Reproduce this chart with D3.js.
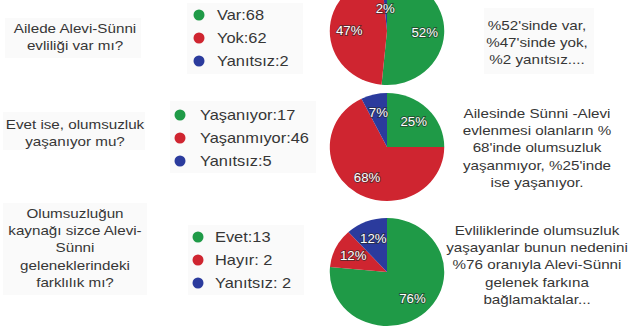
<!DOCTYPE html>
<html lang="tr">
<head>
<meta charset="utf-8">
<script src="https://cdn.jsdelivr.net/npm/d3@7"></script>
<style>
  html, body { margin: 0; padding: 0; background: #fff; }
  svg { display: block; }
  text { font-family: "Liberation Sans", Arial, Helvetica, sans-serif; }
</style>
</head>
<body>
<svg id="chart" width="630" height="333"></svg>
<script>
// Survey questions (left column)
const questions = [
  ["Ailede Alevi-Sünni", "evliliği var mı?"],
  ["Evet ise, olumsuzluk", "yaşanıyor mu?"],
  ["Olumsuzluğun", "kaynağı sizce Alevi-", "Sünni", "geleneklerindeki", "farklılık mı?"]
];

// Answer categories and counts for each question
const categories = [
  ["Var", "Yok", "Yanıtsız"],
  ["Yaşanıyor", "Yaşanmıyor", "Yanıtsız"],
  ["Evet", "Hayır", "Yanıtsız"]
];
const counts = [
  [68, 62, 2],
  [17, 46, 5],
  [13, 2, 2]
];
const separators = [
  [":", ":", ":"],
  [":", ":", ":"],
  [":", ": ", ": "]
];

// Written summaries (right column)
const summaries = [
  ["%52'sinde var,", "%47'sinde yok,", "%2 yanıtsız...."],
  ["Ailesinde Sünni -Alevi", "evlenmesi olanların %", "68'inde olumsuzluk", "yaşanmıyor, %25'inde", "ise yaşanıyor."],
  ["Evliliklerinde olumsuzluk", "yaşayanlar bunun nedenini", "%76 oranıyla Alevi-Sünni", "gelenek farkına", "bağlamaktalar..."]
];

const sliceColors = ["#1f9a47", "#cf2530", "#2b3b9d"];

// ---- layout ----
const svg = d3.select("#chart");
const pieX = 387, pieR = 54, pieStretch = 1.06;
const rowPieY = [31, 147, 272];
const questionX = 75, questionY = [28, 124, 213];
const legendDotX = [199, 180, 198], legendTextX = [217, 200, 215];
const legendY = [15, 115, 237], legendStep = 23;
const summaryX = 537, summaryY = [25, 113, 230];
const lineH = 17.4;
const textColor = "#363636";

const color = d3.scaleOrdinal().domain([0, 1, 2]).range(sliceColors);
const pie = d3.pie().sort(null).value(d => d);
const arc = d3.arc().innerRadius(0).outerRadius(pieR);
const labelArc = d3.arc().innerRadius(pieR * 0.66).outerRadius(pieR * 0.66);

// faint panels behind text blocks
const panels = [
  [5, 18, 136, 40], [187, 3, 116, 71], [484, 8, 110, 66],
  [3, 112, 142, 38], [170, 101, 146, 72],
  [3, 203, 144, 92], [188, 225, 116, 70]
];
svg.append("g").selectAll("rect").data(panels).join("rect")
  .attr("x", d => d[0]).attr("y", d => d[1])
  .attr("width", d => d[2]).attr("height", d => d[3])
  .attr("fill", "#fafafa");

function wideText(g, x, y, str, size, sx) {
  return g.append("text")
    .attr("transform", `translate(${x},${y}) scale(${sx},1)`)
    .attr("dominant-baseline", "central")
    .attr("font-size", size)
    .attr("fill", textColor)
    .text(str);
}

counts.forEach((vals, i) => {
  const g = svg.append("g");

  // question text
  questions[i].forEach((line, k) => {
    wideText(g, questionX, questionY[i] + k * lineH, line, 13, 1.17)
      .attr("text-anchor", "middle");
  });

  // legend
  vals.forEach((v, k) => {
    const y = legendY[i] + k * legendStep;
    g.append("circle")
      .attr("cx", legendDotX[i]).attr("cy", y).attr("r", 5.5)
      .attr("fill", color(k));
    wideText(g, legendTextX[i], y, categories[i][k] + separators[i][k] + v, 14.5, 1.13);
  });

  // pie (slightly wider than tall)
  const total = d3.sum(vals);
  const arcs = pie(vals);
  const cy = rowPieY[i];
  const pg = g.append("g")
    .attr("transform", `translate(${pieX},${cy}) scale(${pieStretch},1)`);
  pg.selectAll("path").data(arcs).join("path")
    .attr("d", arc)
    .attr("fill", (d, k) => color(k));
  pg.selectAll("text").data(arcs).join("text")
    .attr("transform", d => {
      const [lx, ly] = labelArc.centroid(d);
      // keep labels inside the visible area
      return `translate(${lx},${Math.max(ly, 9 - cy)})`;
    })
    .attr("text-anchor", "middle")
    .attr("dominant-baseline", "central")
    .attr("font-size", 12.5)
    .attr("fill", "#fff")
    .attr("stroke", "rgba(40,40,40,0.6)")
    .attr("stroke-width", 1.8)
    .attr("paint-order", "stroke")
    .text(d => Math.round(d.value / total * 100) + "%");

  // summary text
  summaries[i].forEach((line, k) => {
    wideText(g, summaryX, summaryY[i] + k * lineH, line, 13, 1.17)
      .attr("text-anchor", "middle");
  });
});
</script>
</body>
</html>
